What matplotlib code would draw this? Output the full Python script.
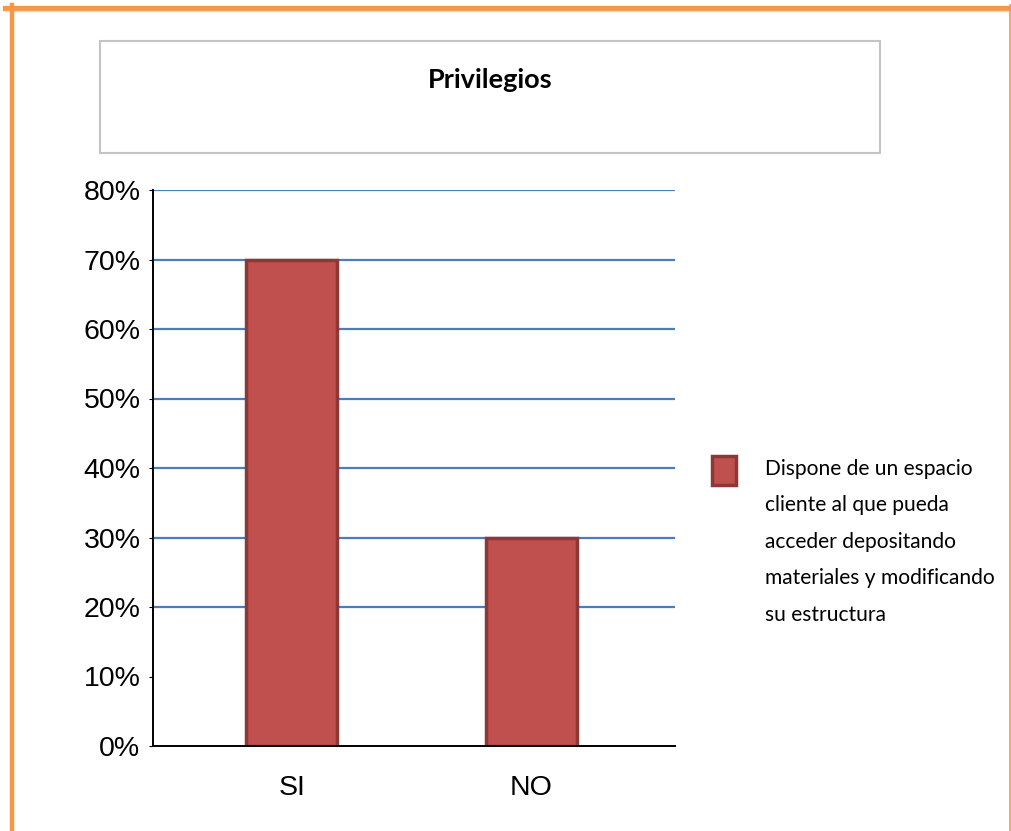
import matplotlib
matplotlib.use("Agg")
import matplotlib.pyplot as plt
from matplotlib.patches import Rectangle
from matplotlib.lines import Line2D
from matplotlib.ticker import PercentFormatter

# datos de la encuesta
categorias = ["SI", "NO"]
porcentajes = [0.70, 0.30]
niveles_y = [0.0, 0.1, 0.2, 0.3, 0.4, 0.5, 0.6, 0.7, 0.8]
lineas_guia = [0.2, 0.3, 0.4, 0.5, 0.6, 0.7, 0.8]
titulo = "Privilegios"
leyenda = "Dispone de un espacio\ncliente al que pueda\nacceder depositando\nmateriales y modificando\nsu estructura"

W, H = 1011, 831
fig = plt.figure(figsize=(W / 100, H / 100), dpi=100)

def fx(px):
    return px / W

def fy(py):
    return 1 - py / H

# marco naranja
naranja = "#f79646"
fig.add_artist(Line2D([fx(5), fx(1010)], [fy(7.5), fy(7.5)], color=naranja, lw=3.8))
fig.add_artist(Line2D([fx(5), fx(1008)], [fy(10.5), fy(10.5)], color="#fbd4b4", lw=1.0))
fig.add_artist(Line2D([fx(12), fx(12)], [fy(5), 0], color=naranja, lw=3.2))
fig.add_artist(Line2D([fx(1009.5), fx(1009.5)], [fy(5), 0], color=naranja, lw=1.2))

# caja del titulo
fig.add_artist(Rectangle((fx(100), fy(153)), fx(780), 112 / H, transform=fig.transFigure,
                         facecolor="white", edgecolor="#c4c4c4", lw=1.5))
fig.text(fx(490), fy(80), titulo, ha="center", va="center", fontsize=19.5,
         fontweight="bold", family=["Lato", "DejaVu Sans"])

ax = fig.add_axes([fx(153), fy(746), fx(522), (746 - 190) / H])
x = range(len(categorias))

ax.hlines(lineas_guia, -0.58, 1.6, color="#4a7ebb", lw=1.6, zorder=1)
ax.bar(x, porcentajes, width=0.38, color="#c0504d", edgecolor="#8c3836",
       linewidth=2.5, zorder=2)

ax.set_xlim(-0.58, 1.6)
ax.set_ylim(0, 0.8)
ax.set_yticks(niveles_y)
ax.yaxis.set_major_formatter(PercentFormatter(1.0, decimals=0))
ax.set_xticks(list(x))
ax.set_xticklabels(categorias)

for s in ["top", "right"]:
    ax.spines[s].set_visible(False)
for s in ["left", "bottom"]:
    ax.spines[s].set_color("black")
    ax.spines[s].set_linewidth(1.4)
ax.tick_params(axis="y", length=3, pad=6, labelsize=20.5, colors="black")
ax.tick_params(axis="x", length=0, pad=21, labelsize=20.5, colors="black")
for lbl in ax.get_xticklabels() + ax.get_yticklabels():
    lbl.set_family(["Liberation Sans", "DejaVu Sans"])

# leyenda
fig.add_artist(Rectangle((fx(712), fy(485)), fx(24), 29 / H, transform=fig.transFigure,
                         facecolor="#c0504d", edgecolor="#8c3836", lw=2.5))
fig.text(fx(765), fy(459), leyenda, ha="left", va="top", fontsize=15.1,
         linespacing=2.03, family=["Lato", "DejaVu Sans"])

fig.savefig("out.png", dpi=100)
